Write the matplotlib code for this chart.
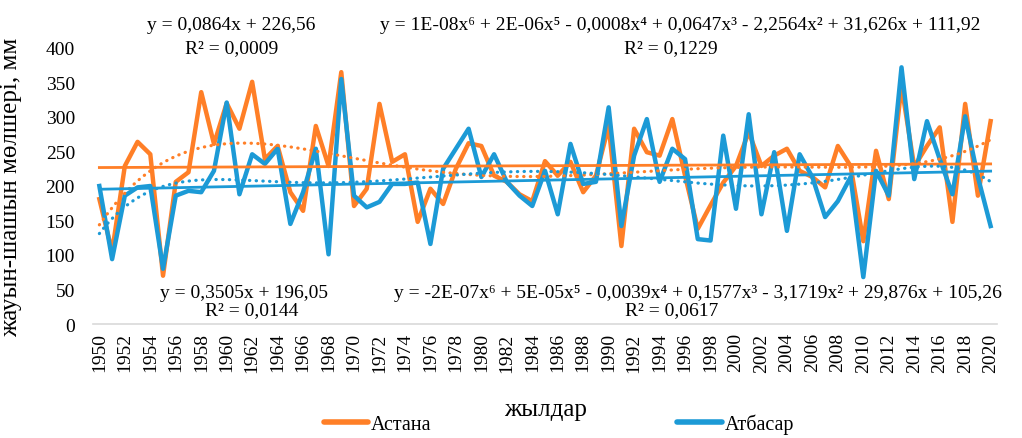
import numpy as np
import matplotlib
matplotlib.use("Agg")
import matplotlib.pyplot as plt
from matplotlib.lines import Line2D

years = list(range(1950, 2021))
astana = [181, 105, 229, 264, 246, 70, 206, 220, 336, 261,
          320, 283, 351, 239, 258, 191, 164, 287, 229, 365,
          171, 196, 319, 235, 246, 148, 196, 174, 225, 262,
          258, 215, 206, 188, 178, 236, 215, 235, 191, 215,
          287, 113, 283, 249, 244, 297, 215, 138, 172, 205,
          229, 278, 229, 244, 254, 222, 213, 198, 258, 229,
          120, 251, 181, 345, 228, 258, 285, 148, 319, 186, 294]
atbasar = [200, 94, 186, 198, 200, 80, 186, 193, 191, 222,
           321, 188, 246, 232, 254, 145, 191, 254, 101, 355,
           186, 169, 177, 203, 203, 205, 116, 225, 254, 283,
           213, 246, 206, 186, 171, 222, 159, 261, 203, 206,
           314, 142, 244, 297, 206, 254, 239, 123, 121, 273,
           167, 304, 159, 249, 135, 246, 213, 155, 178, 213,
           68, 222, 186, 372, 210, 294, 239, 188, 301, 213, 142]
series_names = ["Астана", "Атбасар"]
tick_years = list(range(1950, 2021, 2))
y_ticks = [0, 50, 100, 150, 200, 250, 300, 350, 400]

eq_texts = [
    "y = 0,0864x + 226,56", "R² = 0,0009",
    "y = 1E-08x⁶ + 2E-06x⁵ - 0,0008x⁴ + 0,0647x³ - 2,2564x² + 31,626x + 111,92", "R² = 0,1229",
    "y = 0,3505x + 196,05", "R² = 0,0144",
    "y = -2E-07x⁶ + 5E-05x⁵ - 0,0039x⁴ + 0,1577x³ - 3,1719x² + 29,876x + 105,26", "R² = 0,0617",
]

ORANGE = "#FF7F27"
BLUE = "#1C9AD6"
FONT = ["Liberation Serif", "DejaVu Serif"]
plt.rcParams['font.family'] = FONT

W, H = 1022, 439
fig = plt.figure(figsize=(W / 100, H / 100), dpi=100)
ax = fig.add_axes([93 / W, 1 - 325 / H, (997 - 93) / W, (325 - 49) / H])

yrs = np.array(years)
xi = yrs - 1949  # Excel-style index 1..71

for vals, col in ((astana, ORANGE), (atbasar, BLUE)):
    ax.plot(yrs, vals, color=col, lw=3.2, solid_joinstyle='round', zorder=3)

for vals, col in ((astana, ORANGE), (atbasar, BLUE)):
    v = np.array(vals, float)
    lin = np.polyfit(xi, v, 1)
    ax.plot(yrs, np.polyval(lin, xi), color=col, lw=2.0, zorder=4)
    p6 = np.polyfit(xi, v, 6)
    xs = np.linspace(1, 71, 400)
    ax.plot(xs + 1949, np.polyval(p6, xs), color=col, lw=2.3,
            linestyle=(0, (0.1, 2.0)), dash_capstyle='round', zorder=4)

ax.set_xlim(1949.5, 2020.5)
ax.set_ylim(0, 400)
ax.set_yticks(y_ticks)
ax.set_xticks(tick_years)
ax.set_xticklabels([str(t) for t in tick_years], rotation=90)
ax.tick_params(axis='both', length=0, labelsize=14, colors='#000000')
ax.tick_params(axis='y', pad=13)
ax.tick_params(axis='x', pad=6)
for s in ('top', 'right', 'left'):
    ax.spines[s].set_visible(False)
ax.spines['bottom'].set_color('#D9D9D9')
ax.spines['bottom'].set_linewidth(1.2)

ax.set_ylabel("жауын-шашын мөлшері, мм", fontsize=18)
ax.yaxis.set_label_coords(-0.0785, 0.5)
ax.set_xlabel("жылдар", fontsize=18)
ax.xaxis.set_label_coords(0.5, -0.268)

pos = [(231, 25), (232, 49), (680, 25), (671, 49),
       (244, 293), (252, 311), (698, 293), (672, 311)]
for t, (px, py) in zip(eq_texts, pos):
    fig.text(px / W, 1 - py / H, t, ha='center', va='center', fontsize=14)

handles = [Line2D([], [], color=ORANGE, lw=4, solid_capstyle='round'),
           Line2D([], [], color=BLUE, lw=4, solid_capstyle='round')]
fig.legend(handles, series_names, loc='center', bbox_to_anchor=(559 / W, 1 - 425 / H),
           ncol=2, frameon=False, fontsize=14.5, handlelength=2.2, handletextpad=0.15,
           columnspacing=12.2, borderpad=0.0)

fig.savefig("out.png", dpi=100)
